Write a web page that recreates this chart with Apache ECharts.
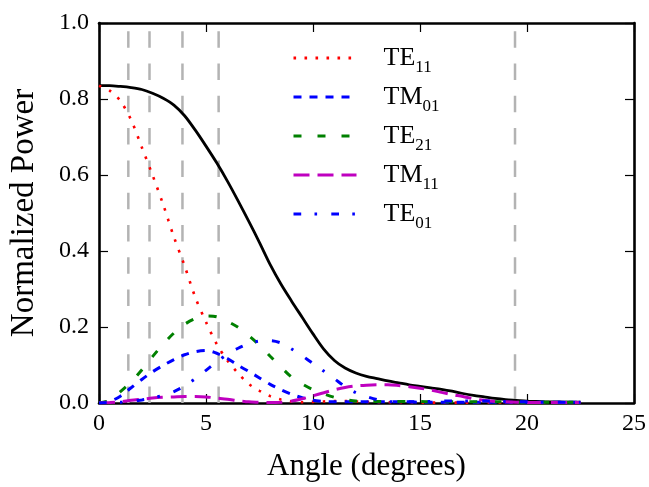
<!DOCTYPE html>
<html><head><meta charset="utf-8">
<script src="https://cdn.jsdelivr.net/npm/echarts@6/dist/echarts.min.js"></script>
<style>html,body{margin:0;padding:0;background:#fff}#c{width:649px;height:487px}</style>
</head><body><div id="c"></div>
<script>
const angles = [0,0.5,1,1.5,2,2.5,3,3.5,4,4.5,5,5.5,6,6.5,7,7.5,8,8.5,9,9.5,10,10.5,11,11.5,12,12.5,13,13.5,14,14.5,15,15.5,16,16.5,17,17.5,18,18.5,19,19.5,20,20.5,21,21.5,22,22.5];
const total = [0.835,0.835,0.833,0.830,0.825,0.815,0.802,0.784,0.756,0.718,0.676,0.632,0.584,0.532,0.478,0.422,0.364,0.313,0.268,0.225,0.182,0.142,0.112,0.092,0.079,0.070,0.064,0.058,0.053,0.048,0.044,0.040,0.036,0.031,0.025,0.020,0.016,0.012,0.009,0.007,0.005,0.004,0.003,0.003,0.002,0.002];
const te11 = [0.835,0.822,0.795,0.745,0.673,0.600,0.522,0.437,0.361,0.278,0.213,0.155,0.112,0.078,0.050,0.032,0.018,0.009,0.004,0.002,0.003,0.004,0.005,0.005,0.004,0.003,0.002,0.002,0.002,0.002,0.001,0.001,0.001,0.001,0.001,0.001,0.001,0.001,0.001,0.001,0.001,0.001,0.001,0.001,0.001,0.001];
const tm01 = [0,0.004,0.018,0.040,0.062,0.082,0.099,0.114,0.127,0.135,0.138,0.131,0.117,0.099,0.083,0.066,0.049,0.035,0.023,0.014,0.007,0.004,0.003,0.003,0.003,0.003,0.003,0.003,0.003,0.003,0.002,0.002,0.002,0.002,0.002,0.002,0.002,0.002,0.002,0.002,0.002,0.002,0.002,0.002,0.002,0.002];
const te21 = [0,0.007,0.030,0.055,0.087,0.122,0.155,0.184,0.207,0.222,0.229,0.227,0.215,0.199,0.177,0.152,0.123,0.095,0.068,0.050,0.035,0.024,0.015,0.009,0.005,0.004,0.004,0.004,0.004,0.004,0.004,0.003,0.003,0.003,0.003,0.003,0.003,0.003,0.003,0.002,0.002,0.002,0.002,0.002,0.002,0.002];
const tm11 = [0,0.001,0.003,0.007,0.010,0.013,0.015,0.016,0.017,0.017,0.016,0.013,0.010,0.006,0.003,0.002,0.001,0.002,0.005,0.011,0.019,0.027,0.035,0.041,0.045,0.047,0.048,0.048,0.046,0.043,0.039,0.034,0.028,0.022,0.017,0.011,0.007,0.004,0.003,0.002,0.001,0.001,0.001,0.001,0.001,0.001];
const te01 = [0,0.001,0.002,0.004,0.008,0.013,0.020,0.030,0.045,0.064,0.086,0.108,0.128,0.144,0.156,0.163,0.164,0.158,0.142,0.124,0.104,0.084,0.064,0.043,0.027,0.017,0.009,0.004,0.003,0.003,0.004,0.004,0.005,0.005,0.005,0.005,0.005,0.005,0.004,0.003,0.003,0.002,0.002,0.002,0.002,0.002];
const cutoffAngles = [1.37, 2.36, 3.90, 5.59, 19.44];
const modeNames = ['TE11','TM01','TE21','TM11','TE01'];
const modeValues = [te11, tm01, te21, tm11, te01];

const FONT = 'Liberation Serif';
const modeStyles = [
  {color:'#ff0000', width:2.6, type:[2.6,8.4]},
  {color:'#0000ff', width:3, type:[8,8]},
  {color:'#008000', width:3, type:[8,16]},
  {color:'#bf00bf', width:3, type:[16,8]},
  {color:'#0000ff', width:3, type:[7.7,13.3,2.6,14.2]}
];
const pairs = arr => angles.map((a,i)=>[a, arr[i]]);

const series = [];
cutoffAngles.forEach(a => series.push({
  type:'line', data:[[a,0],[a,1]], symbol:'none', silent:true,
  lineStyle:{color:'#b3b3b3', width:2.5, type:[16.5,15.8]}, z:1
}));
series.push({type:'line', name:'Total', data:pairs(total), symbol:'none', smooth:0.3,
  lineStyle:{color:'#000', width:2.8}, z:2});
modeNames.forEach((n,i)=>series.push({
  type:'line', name:n, data:pairs(modeValues[i]), symbol:'none', smooth:0.3,
  itemStyle:{color:modeStyles[i].color},
  lineStyle:{color:modeStyles[i].color, width:modeStyles[i].width, type:modeStyles[i].type, cap:'butt'}, z:3
}));

const axisLine = {show:true, onZero:false, lineStyle:{color:'#000', width:2.6}};
const axisTick = {show:true, inside:true, length:9, lineStyle:{color:'#000', width:1.2}};
const label = {color:'#000', fontFamily:FONT, fontSize:24};

const chart = echarts.init(document.getElementById('c'));
chart.setOption({
  animation:false,
  backgroundColor:'#fff',
  grid:{left:92, right:14, top:23, bottom:77},
  legend:{
    data:modeNames, orient:'vertical', left:292, top:40, padding:0,
    itemWidth:63, itemHeight:14, itemGap:3,
    itemStyle:{opacity:0},
    lineStyle:{width:3},
    formatter: n => n.replace(/^(\D+)(\d+)$/, '{m|$1}{s|$2}'),
    textStyle:{
      color:'#000', fontFamily:FONT,
      rich:{
        m:{fontFamily:FONT, fontSize:26, lineHeight:34, color:'#000', padding:[0,0,0,22]},
        s:{fontFamily:FONT, fontSize:17, lineHeight:14, color:'#000', padding:[19,0,0,0]}
      }
    }
  },
  xAxis:[
    {type:'value', min:0, max:25, interval:5, position:'bottom',
     axisLine, axisTick, splitLine:{show:false},
     axisLabel:Object.assign({margin:9}, label),
     name:'Angle (degrees)', nameLocation:'middle', nameGap:48,
     nameTextStyle:{color:'#000', fontFamily:FONT, fontSize:31}},
    {type:'value', min:0, max:25, interval:5, position:'top',
     axisLine, axisTick, splitLine:{show:false}, axisLabel:{show:false}}
  ],
  yAxis:[
    {type:'value', min:0, max:1, interval:0.2, position:'left',
     axisLine, axisTick, splitLine:{show:false},
     axisLabel:Object.assign({margin:10, formatter:v=>v.toFixed(1)}, label),
     name:'Normalized Power', nameLocation:'middle', nameGap:58,
     nameTextStyle:{color:'#000', fontFamily:FONT, fontSize:33}},
    {type:'value', min:0, max:1, interval:0.2, position:'right',
     axisLine, axisTick, splitLine:{show:false}, axisLabel:{show:false}}
  ],
  series
});
</script></body></html>
